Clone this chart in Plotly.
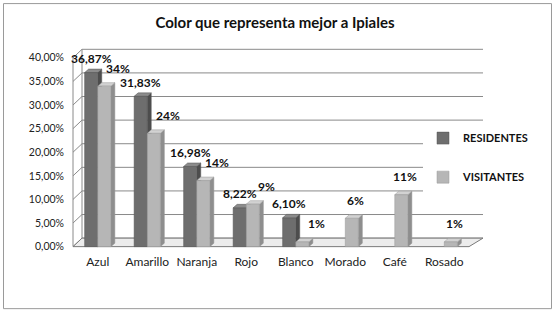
import plotly.graph_objects as go

# ---------------- data ----------------
categories = ["Azul", "Amarillo", "Naranja", "Rojo", "Blanco", "Morado", "Café", "Rosado"]
residentes = [36.87, 31.83, 16.98, 8.22, 6.10, None, None, None]
visitantes = [34, 24, 14, 9, 1, 6, 11, 1]
tick_values = [0, 5, 10, 15, 20, 25, 30, 35, 40]
title_text = "Color que representa mejor a Ipiales"
series_names = ["RESIDENTES", "VISITANTES"]

res_labels = [None if v is None else f"{v:.2f}%".replace(".", ",") for v in residentes]
vis_labels = [None if v is None else f"{v:.0f}%" for v in visitantes]
tick_text = [f"{v:.2f}%".replace(".", ",") for v in tick_values]

# ---------------- layout constants ----------------
W, H = 556, 313
Y0_PX, Y40_PX = 246.5, 57.7          # pixel rows of 0 % and 40 %
PPU = (Y0_PX - Y40_PX) / 40.0        # pixels per percent
YMIN, YMAX = -0.5, 42.5
ML, MR = 73, 87
MT = Y40_PX - (YMAX - 40) * PPU
MB = H - (Y0_PX - YMIN * PPU)
PW = W - ML - MR
PH = H - MT - MB
CAT_PX = PW / len(categories)
BARGAP = 0.47
BAR_W = (1 - BARGAP) / 2             # in category units
WALL_DX, WALL_DY = 9, 8.5
WALL_RIGHT = 483 - ML                # back wall right end (px from plot left)
BAR_DX, BAR_DY = 4, 3.5
RES_LIFT, VIS_LIFT = 14, 18          # data label centre above bar top (px)
VIS_SHIFT_NEIGHBOR, VIS_SHIFT_ALONE = 14, 4

FONT = "Lato"
GRID = "#8a8a8a"
TEXT = "#111111"
RES_COLORS = dict(front="#6e6e6e", top="#8c8c8c", side="#4d4d4d", line="#555555")
VIS_COLORS = dict(front="#b6b6b6", top="#d2d2d2", side="#8e8e8e", line="#999999")


def px_x(px):
    return (px - ML) / PW


def px_y(py):
    return (H - MB - py) / PH


shapes = []
# back wall gridlines and left wall diagonals
for v in tick_values:
    shapes.append(dict(type="line", layer="below", xref="paper", x0=WALL_DX / PW, x1=WALL_RIGHT / PW,
                       yref="y", ysizemode="pixel", yanchor=v, y0=WALL_DY, y1=WALL_DY,
                       line=dict(color=GRID, width=1)))
    shapes.append(dict(type="line", layer="below", xref="paper", xsizemode="pixel", xanchor=0,
                       x0=0, x1=WALL_DX, yref="y", ysizemode="pixel", yanchor=v, y0=0, y1=WALL_DY,
                       line=dict(color=GRID, width=1)))
# front axis line and back-left wall edge
top_v = tick_values[-1]
shapes.append(dict(type="line", layer="below", xref="paper", x0=0, x1=0, yref="y", y0=0, y1=top_v,
                   line=dict(color=GRID, width=1)))
shapes.append(dict(type="line", layer="below", xref="paper", x0=WALL_DX / PW, x1=WALL_DX / PW,
                   yref="y", ysizemode="pixel", yanchor=0, y0=WALL_DY, y1=WALL_DY + top_v * PPU,
                   line=dict(color=GRID, width=1)))
# floor
shapes.append(dict(type="path", layer="below", xref="paper", xsizemode="pixel", xanchor=0,
                   yref="y", ysizemode="pixel", yanchor=0,
                   path=f"M 0,0 L {PW},0 L {WALL_RIGHT},{WALL_DY} L {WALL_DX},{WALL_DY} Z",
                   fillcolor="#ececec", line=dict(color="#7a7a7a", width=1)))

# 3D faces of the bars (top and right side), derived from the data
wpx = BAR_W * CAT_PX
for j, (vals, col) in enumerate([(residentes, RES_COLORS), (visitantes, VIS_COLORS)]):
    for i, v in enumerate(vals):
        if v is None:
            continue
        left = i - BAR_W + j * BAR_W
        right = left + BAR_W
        vpx = v * PPU
        shapes.append(dict(type="path", layer="below", xref="x", xsizemode="pixel", xanchor=right,
                           yref="y", ysizemode="pixel", yanchor=0,
                           path=f"M 0,0 L 0,{vpx} L {BAR_DX},{vpx + BAR_DY} L {BAR_DX},{BAR_DY} Z",
                           fillcolor=col["side"], line=dict(color=col["line"], width=0.5)))
        shapes.append(dict(type="path", layer="below", xref="x", xsizemode="pixel", xanchor=left,
                           yref="y", ysizemode="pixel", yanchor=v,
                           path=f"M 0,0 L {wpx},0 L {wpx + BAR_DX},{BAR_DY} L {BAR_DX},{BAR_DY} Z",
                           fillcolor=col["top"], line=dict(color=col["line"], width=0.5)))

# outer chart border (four lines)
bx0, bx1, by0, by1 = px_x(3.5), px_x(551.5), px_y(308.5), px_y(3.5)
for (xa, ya, xb, yb) in [(bx0, by0, bx1, by0), (bx0, by1, bx1, by1), (bx0, by0, bx0, by1), (bx1, by0, bx1, by1)]:
    shapes.append(dict(type="line", layer="above", xref="paper", yref="paper",
                       x0=xa, y0=ya, x1=xb, y1=yb, line=dict(color="#9a9a9a", width=1)))

# data labels as annotations anchored on the bars
annotations = []
for i, (rv, vv) in enumerate(zip(residentes, visitantes)):
    if rv is not None:
        annotations.append(dict(x=i - BAR_W / 2, y=rv, xref="x", yref="y", text=res_labels[i],
                                showarrow=False, xanchor="center", yanchor="middle", yshift=RES_LIFT,
                                font=dict(family=FONT, size=12, color=TEXT, weight="bold")))
    if vv is not None:
        annotations.append(dict(x=i + BAR_W / 2, y=vv, xref="x", yref="y", text=vis_labels[i],
                                showarrow=False, xanchor="center", yanchor="middle", yshift=VIS_LIFT,
                                xshift=VIS_SHIFT_NEIGHBOR if rv is not None else VIS_SHIFT_ALONE,
                                font=dict(family=FONT, size=12, color=TEXT, weight="bold")))

fig = go.Figure()
fig.add_trace(go.Bar(
    x=categories, y=residentes, name=series_names[0], showlegend=True,
    marker=dict(color=RES_COLORS["front"], line=dict(color=RES_COLORS["line"], width=0.5)),
    legend="legend",
))
fig.add_trace(go.Bar(
    x=categories, y=visitantes, name=series_names[1], showlegend=True,
    marker=dict(color=VIS_COLORS["front"], line=dict(color=VIS_COLORS["line"], width=0.5)),
    legend="legend2",
))

legend_common = dict(xanchor="left", yanchor="middle", bgcolor="white",
                     font=dict(family=FONT, size=11, color=TEXT, weight="bold"),
                     itemwidth=30, borderwidth=0, visible=True)

fig.update_layout(
    width=W, height=H,
    showlegend=True,
    margin=dict(l=ML, r=MR, t=MT, b=MB, pad=0),
    paper_bgcolor="white", plot_bgcolor="white",
    barmode="group", bargap=BARGAP, bargroupgap=0,
    title=dict(text=title_text, x=275 / W, xref="container", xanchor="center",
               y=1 - 23 / H, yref="container", yanchor="middle",
               font=dict(family=FONT, size=15, color=TEXT, weight="bold")),
    xaxis=dict(range=[-0.5, len(categories) - 0.5], showgrid=False, zeroline=False, showline=False,
               ticks="", ticklabelstandoff=4, tickfont=dict(family=FONT, size=12, color="#222222")),
    yaxis=dict(range=[YMIN, YMAX], tickmode="array", tickvals=tick_values, ticktext=tick_text,
               showgrid=False, zeroline=False, showline=False, ticks="", ticklabelstandoff=8,
               tickfont=dict(family=FONT, size=10.5, color="#222222")),
    legend=dict(x=px_x(463 - 40), y=px_y(138), **legend_common),
    legend2=dict(x=px_x(463 - 40), y=px_y(177), **legend_common),
    shapes=shapes,
    annotations=annotations,
    font=dict(family=FONT),
)

fig.write_html("out.html",
               config={"displayModeBar": False},
               post_script="document.body.style.margin='0';document.body.style.overflow='hidden';")
